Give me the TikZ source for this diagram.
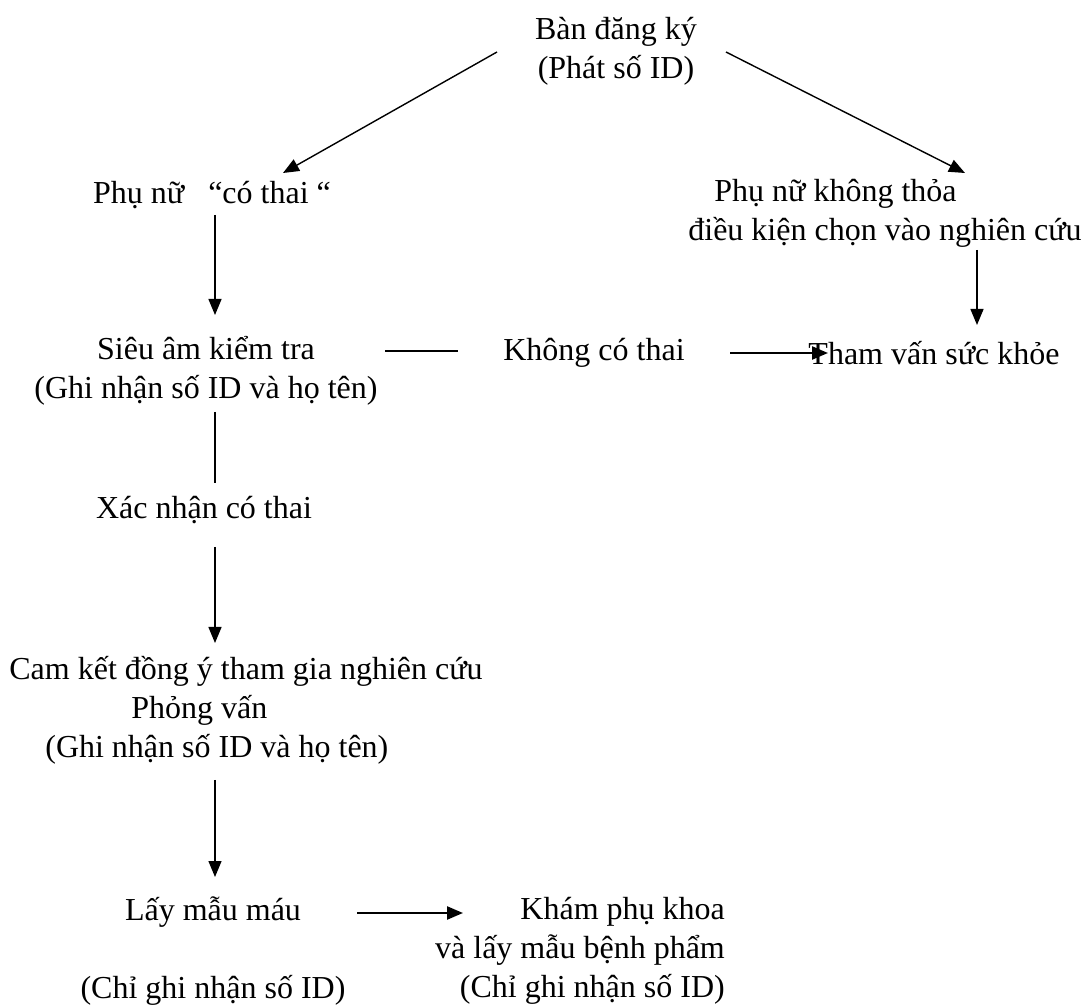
\documentclass[tikz,border=0pt]{standalone}
\usepackage{fontspec}
\setmainfont{Liberation Serif}
\usetikzlibrary{arrows.meta,calc}

\begin{document}
\begin{tikzpicture}[
  x=0.5pt, y=-0.5pt,
  every node/.style={font=\fontsize{16}{19.5}\selectfont, inner sep=0pt},
  box/.style={align=center},
  lbox/.style={align=left},
  rbox/.style={align=right},
  link/.style={line width=0.7pt},
  heavy/.style={line width=1.2pt},
  >={Triangle[length=8pt,width=6.5pt]}
]
\useasboundingbox (0,0) rectangle (1083,1005);

% steps
\node[box] (reg) at (616,51) {Bàn đăng ký\\(Phát số ID)};
\node[box] (preg) at (212,195) {Phụ nữ\hspace{0.75em}“có thai “};
\node[lbox] (excl) at (885,213) {\hspace*{13pt}Phụ nữ không thỏa\\điều kiện chọn vào nghiên cứu};
\node[box] (chk) at (206,371) {Siêu âm kiểm tra\\(Ghi nhận số ID và họ tên)};
\node[box] (neg) at (594,353) {Không có thai};
\node[box] (couns) at (934,353) {Tham vấn sức khỏe};
\node[box] (conf) at (204,510) {Xác nhận có thai};
\node[lbox] (cons) at (246,710) {Cam kết đồng ý tham gia nghiên cứu\\\hspace*{61pt}Phỏng vấn\\\hspace*{18pt}(Ghi nhận số ID và họ tên)};
\node[box] (blood) at (213,951) {Lấy mẫu máu\\[19.5pt](Chỉ ghi nhận số ID)};
\node[rbox] (gyn) at (580,951) {Khám phụ khoa\\và lấy mẫu bệnh phẩm\\(Chỉ ghi nhận số ID)};

% links
\draw[link,->] ($(reg)+(-119,1)$) -- ($(preg)+(71,-22)$);
\draw[link,->] ($(reg)+(110,1)$) -- ($(excl)+(80,-40)$);
\draw[link,->] ($(preg)+(3,20)$) -- ($(chk)+(9,-56)$);
\draw[link,->] ($(excl)+(92,37)$) -- ($(couns)+(43,-28)$);
\draw[heavy] ($(chk)+(179,-20)$) -- ($(neg)+(-136,-2)$);
\draw[heavy,->] ($(neg)+(136,0)$) -- ($(couns)+(-106,0)$);
\draw[link] ($(chk)+(9,41)$) -- ($(conf)+(11,-27)$);
\draw[link,->] ($(conf)+(11,37)$) -- ($(cons)+(-31,-67)$);
\draw[link,->] ($(cons)+(-31,70)$) -- ($(blood)+(2,-74)$);
\draw[heavy,->] ($(blood)+(144,-38)$) -- ($(gyn)+(-117,-38)$);
\end{tikzpicture}
\end{document}
